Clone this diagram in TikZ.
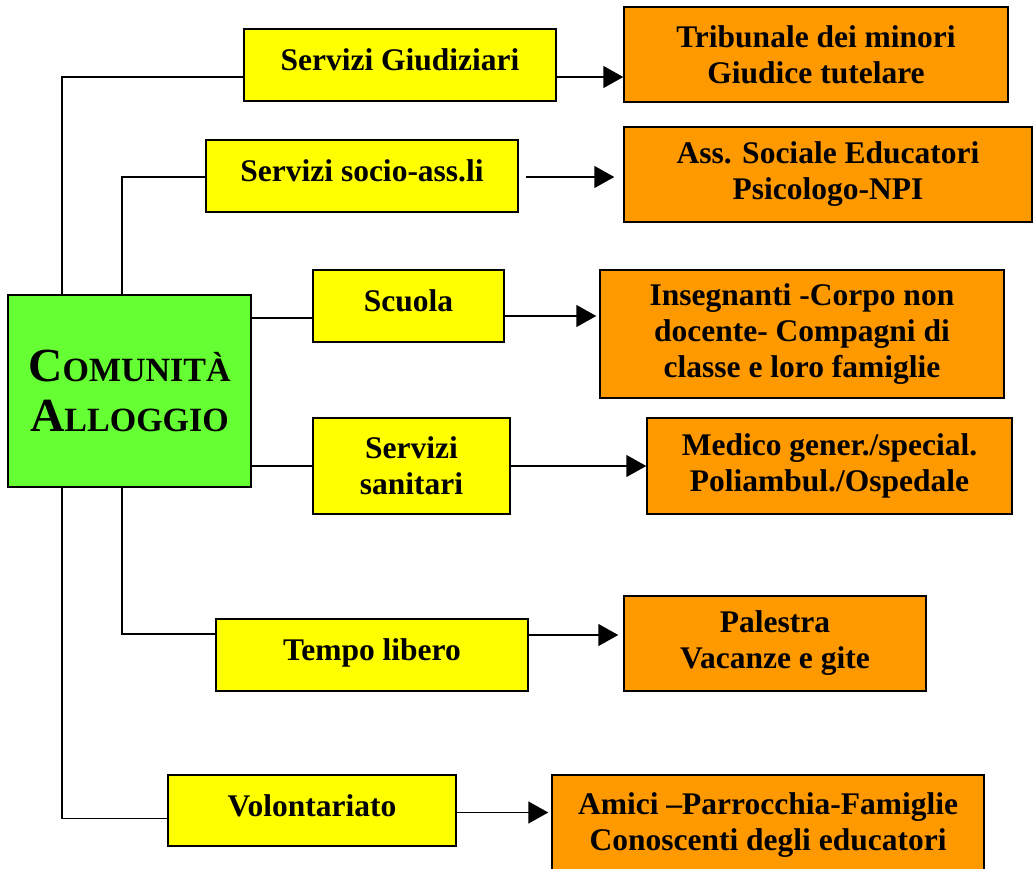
\documentclass[tikz,border=0pt]{standalone}
\usepackage{fontspec}
\setmainfont{Liberation Serif}
\usepackage{tikz}
\usetikzlibrary{arrows.meta}
\definecolor{verde}{HTML}{66FF33}
\definecolor{giallo}{HTML}{FFFF00}
\definecolor{arancio}{HTML}{FF9900}
\newcommand\maiu[1]{{\fontsize{34}{50}\selectfont #1}}
\tikzset{
  box/.style={draw,line width=1.5pt,align=center,inner sep=0pt,font=\bfseries\fontsize{31.5}{36}\selectfont},
  comunita/.style={box,fill=verde,font=\bfseries\fontsize{47.5}{50}\selectfont},
  servizio/.style={box,fill=giallo},
  servizio1/.style={servizio,text height=22pt,text depth=11pt},
  ente/.style={box,fill=arancio},
  freccia/.style={line width=1.5pt,-{Triangle[length=20pt,width=22pt]}},
  linea/.style={line width=1.5pt}
}
\begin{document}
\begin{tikzpicture}[x=1pt,y=-1pt]
            \useasboundingbox (0,0) rectangle (1035,869);
            \coordinate (xa) at (62,0);
            \coordinate (xb) at (122,0);

            \node[comunita,minimum width=243,minimum height=192](com) at (129.5,391){C\maiu{OMUNITÀ}\\A\maiu{LLOGGIO}};

            \node[servizio1,minimum width=312,minimum height=72](giu) at (400,65){Servizi Giudiziari};
            \node[servizio1,minimum width=312,minimum height=72](soc) at (362,176){Servizi socio-ass.li};
            \node[servizio1,minimum width=191,minimum height=72](scu) at (408.5,306){Scuola};
            \node[servizio,minimum width=197,minimum height=96](san) at (411.5,466){Servizi\\sanitari};
            \node[servizio1,minimum width=312,minimum height=72](tem) at (372,655){Tempo libero};
            \node[servizio1,minimum width=288,minimum height=71](vol) at (312,810.5){Volontariato};

            \node[ente,minimum width=384,minimum height=95](tri) at (816,54.5){Tribunale dei minori\\Giudice tutelare};
            \node[ente,minimum width=408,minimum height=95](ass) at (828,174.5){Ass. Sociale Educatori\\Psicologo-NPI};
            \node[ente,minimum width=404,minimum height=128](ins) at (802,334){Insegnanti -Corpo non\\docente- Compagni di\\classe e loro famiglie};
            \node[ente,minimum width=365,minimum height=96](med) at (829.5,466){Medico gener./special.\\Poliambul./Ospedale};
            \node[ente,minimum width=302,minimum height=95](pal) at (775,643.5){Palestra\\Vacanze e gite};
            \node[ente,minimum width=432,minimum height=105,text depth=12pt](ami) at (768,827.5){Amici --Parrocchia-Famiglie\\Conoscenti degli educatori};

            % rami dalla comunita'
            \draw[linea]([yshift=-12]giu.west)-|(com.north-|xa);
            \draw[linea]([yshift=-1]soc.west)-|(com.north-|xb);
            \draw[linea]([yshift=-12]scu.west)--([yshift=-12]scu.west-|com.east);
            \draw[linea](san.west)--(san.west-|com.east);
            \draw[linea](com.south-|xb)|-([yshift=21]tem.west);
            \draw[linea](com.south-|xa)|-([yshift=-8]vol.west);

            % frecce verso gli enti
            \draw[freccia]([yshift=-12]giu.east)--([yshift=-12]giu.east-|tri.west);
            \draw[freccia,shorten >=9pt]([xshift=7,yshift=-1]soc.east)--([yshift=-1]soc.east-|ass.west);
            \draw[freccia,shorten >=3pt]([yshift=-10]scu.east)--([yshift=-10]scu.east-|ins.west);
            \draw[freccia](san.east)--(san.east-|med.west);
            \draw[freccia,shorten >=5pt]([yshift=20]tem.east)--([yshift=20]tem.east-|pal.west);
            \draw[freccia,shorten >=3pt]([yshift=-2]vol.east)--([yshift=-2]vol.east-|ami.west);
\end{tikzpicture}
\end{document}
